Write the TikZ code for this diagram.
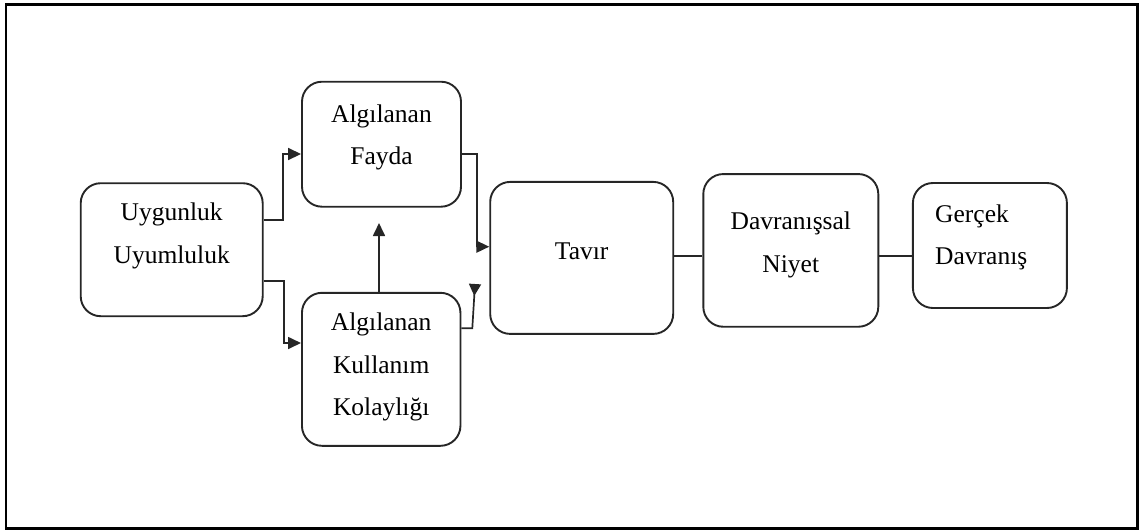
\documentclass[tikz,border=0pt]{standalone}
\usepackage{fontspec}
\setmainfont{Liberation Serif}
\usetikzlibrary{arrows.meta}
\begin{document}
\begin{tikzpicture}[x=1pt,y=-1pt,
  box/.style={draw=black!85, line width=1.9pt, rounded corners=20pt, inner sep=0pt},
  lbl/.style={align=center, inner sep=0pt, font=\fontsize{25.5}{42.5}\selectfont},
  lbll/.style={align=left, inner sep=0pt, font=\fontsize{25.5}{42.5}\selectfont},
  conn/.style={draw=black!85, line width=1.7pt},
  arr/.style={conn, -{Triangle[length=13pt,width=12pt]}},
  rarr/.style={conn, -{Triangle[length=12pt,width=12pt,reversed]}}
]
\useasboundingbox (0,0) rectangle (1148,531);
% outer frame
\draw[line width=2.5pt] (6,4.5) rectangle (1137.5,528.5);

% boxes
\node[box, minimum width=182pt, minimum height=133pt] (uyg) at (171.7,249.7) {};
\node[box, minimum width=159pt, minimum height=125pt] (fay) at (381.5,144.2) {};
\node[box, minimum width=158.5pt, minimum height=153pt] (kul) at (381.2,369.3) {};
\node[box, minimum width=183pt, minimum height=152pt] (tav) at (581.7,257.9) {};
\node[box, minimum width=175pt, minimum height=152.7pt] (niy) at (790.8,250.4) {};
\node[box, minimum width=154pt, minimum height=125pt] (ger) at (989.9,245.5) {};

% texts
\node[lbl] (uygT) at (171.7,236) {Uygunluk\\Uyumluluk};
\node[lbl] (fayT) at (381.5,137.4) {Algılanan\\Fayda};
\node[lbl] (kulT) at (381.2,367.3) {Algılanan\\Kullanım\\Kolaylığı};
\node[lbl] (tavT) at (581.7,251) {Tavır};
\node[lbl] (niyT) at (790.8,244.7) {Davranışsal\\Niyet};
\node[lbll, anchor=west] (gerT) at (935,237.5) {Gerçek\\Davranış};

% connector end points
\coordinate (kfTip) at (379,223);
\coordinate (ktTip) at (475,284);

% connectors
\draw[arr] (uyg.east |- 0,220) -- (283,220) |- (fay.west |- 0,154);
\draw[arr] (uyg.east |- 0,281) -- (284,281) |- (kul.west |- 0,343);
\draw[arr] (kul.north -| kfTip) -- (kfTip);
\draw[arr] (fay.east |- 0,154) -- (476.7,154) |- (tav.west |- 0,246.7);
\draw[rarr] (kul.east |- 0,328.3) -- (472.3,328.3) -- (ktTip);
\draw[conn] (tav.east |- 0,256) -- (niy.west |- 0,256);
\draw[conn] (niy.east |- 0,256) -- (ger.west |- 0,256);
\end{tikzpicture}
\end{document}
